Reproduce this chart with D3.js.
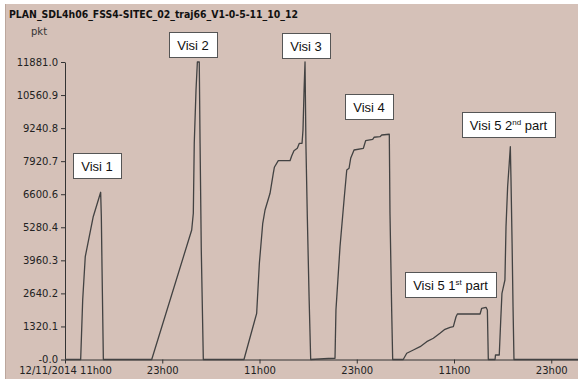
<!DOCTYPE html>
<html>
<head>
<meta charset="utf-8">
<script src="https://cdn.jsdelivr.net/npm/d3@7"></script>
<style>
  body { margin: 0; background: #fff; }
  svg { display: block; }
  .axis path, .axis line { stroke: #333; }
  .axis text { font-family: "DejaVu Sans", sans-serif; font-size: 10px; fill: #222; }
</style>
</head>
<body>
<div id="chart"></div>
<script>
// data (time, packets)
var times = [
  "2014-11-12 11:00","2014-11-12 12:56","2014-11-12 13:11","2014-11-12 13:30","2014-11-12 14:29",
  "2014-11-12 15:24","2014-11-12 15:29","2014-11-12 15:34","2014-11-12 15:44",
  "2014-11-12 21:42","2014-11-13 02:38","2014-11-13 02:50","2014-11-13 02:57","2014-11-13 03:10",
  "2014-11-13 03:20","2014-11-13 03:34","2014-11-13 03:40","2014-11-13 03:49","2014-11-13 04:04",
  "2014-11-13 09:05","2014-11-13 10:39","2014-11-13 10:59","2014-11-13 11:24","2014-11-13 11:41",
  "2014-11-13 12:18","2014-11-13 12:42","2014-11-13 12:50","2014-11-13 13:19","2014-11-13 14:46",
  "2014-11-13 14:58","2014-11-13 15:15","2014-11-13 15:40","2014-11-13 15:55","2014-11-13 16:15",
  "2014-11-13 16:22","2014-11-13 16:30","2014-11-13 16:37","2014-11-13 16:44","2014-11-13 16:54",
  "2014-11-13 17:07","2014-11-13 17:19",
  "2014-11-13 19:29","2014-11-13 20:19","2014-11-13 20:26","2014-11-13 20:56","2014-11-13 21:28",
  "2014-11-13 21:46","2014-11-13 22:03","2014-11-13 22:15","2014-11-13 22:40","2014-11-13 23:49",
  "2014-11-14 00:06","2014-11-14 00:58","2014-11-14 01:08","2014-11-14 01:52","2014-11-14 02:05",
  "2014-11-14 03:01","2014-11-14 03:06","2014-11-14 03:19","2014-11-14 03:26",
  "2014-11-14 04:44","2014-11-14 05:10","2014-11-14 05:59","2014-11-14 06:49","2014-11-14 07:38",
  "2014-11-14 08:27","2014-11-14 09:16","2014-11-14 09:53","2014-11-14 10:31","2014-11-14 10:55",
  "2014-11-14 11:15","2014-11-14 11:25","2014-11-14 14:13","2014-11-14 14:25","2014-11-14 14:57",
  "2014-11-14 15:07","2014-11-14 15:14",
  "2014-11-14 16:04","2014-11-14 16:07","2014-11-14 16:35","2014-11-14 16:46","2014-11-14 16:55",
  "2014-11-14 17:17","2014-11-14 17:25","2014-11-14 17:37","2014-11-14 17:49","2014-11-14 17:57",
  "2014-11-14 18:02","2014-11-14 18:10","2014-11-14 18:17","2014-11-14 18:24","2014-11-15 02:18"
];
var packets = [
  0,0,2376,4106,5703,
  6678,5703,3706,0,
  0,5172,5839,8635,10764,
  11881,11881,8635,4373,0,
  0,1845,3842,5440,5971,
  6638,7437,7676,7940,7940,
  8128,8340,8435,8635,8635,
  9166,10764,11881,8499,5703,
  2508,0,
  40,48,1977,4505,6502,
  7569,7637,8036,8367,8435,
  8739,8795,8875,8899,8966,
  8995,5839,1845,0,
  0,248,379,511,711,
  847,1046,1206,1286,1310,
  1709,1817,1817,2045,2085,
  1977,0,
  0,180,180,1578,2644,
  3175,5304,6901,7836,8499,
  7169,4641,2109,0,0
];

var yTicks = [0, 1320.1, 2640.2, 3960.3, 5280.4, 6600.6, 7920.7, 9240.8, 10560.9, 11881.0];
var yTickLabels = ["-0.0","1320.1","2640.2","3960.3","5280.4","6600.6","7920.7","9240.8","10560.9","11881.0"];
var xTicks = ["2014-11-12 11:00","2014-11-12 23:00","2014-11-13 11:00","2014-11-13 23:00","2014-11-14 11:00","2014-11-14 23:00"];
var xTickLabels = ["12/11/2014 11h00","23h00","11h00","23h00","11h00","23h00"];
var xDomain = ["2014-11-12 11:00","2014-11-15 02:18"];

// annotation labels, anchored at box top-left (time, packets)
var noteText = ["Visi 1","Visi 2","Visi 3","Visi 4","Visi 5 1|st| part","Visi 5 2|nd| part"];
var noteTime = ["2014-11-12 11:59","2014-11-12 23:50","2014-11-13 13:47","2014-11-13 21:33","2014-11-14 04:57","2014-11-14 11:59"];
var noteValue = [8248, 13081, 13041, 10604, 3495, 9885];

var title = "PLAN_SDL4h06_FSS4-SITEC_02_traj66_V1-0-5-11_10_12";

var W = 578, H = 379;
var parse = d3.timeParse("%Y-%m-%d %H:%M");

var data = times.map(function(t, i) { return {t: parse(t), v: packets[i]}; });

var svg = d3.select("#chart").append("svg")
  .attr("width", W)
  .attr("height", H);

// panel background
svg.append("rect")
  .attr("x", 5).attr("y", 4)
  .attr("width", W - 5).attr("height", H - 4)
  .attr("fill", "#d5c1b8");
svg.append("line")
  .attr("x1", 5.5).attr("x2", 5.5).attr("y1", 4).attr("y2", H)
  .attr("stroke", "#bba69c");

var x = d3.scaleTime()
  .domain(xDomain.map(parse))
  .range([65, W]);

var y = d3.scaleLinear()
  .domain([0, 11881])
  .range([359.5, 62]);

svg.append("text")
  .attr("x", 9).attr("y", 18)
  .attr("font-family", "DejaVu Sans, sans-serif")
  .attr("font-weight", "bold")
  .attr("font-size", "10px")
  .attr("fill", "#111")
  .attr("textLength", 289)
  .attr("lengthAdjust", "spacingAndGlyphs")
  .text(title);

svg.append("text")
  .attr("x", 31).attr("y", 35)
  .attr("font-family", "DejaVu Sans, sans-serif")
  .attr("font-size", "10px")
  .attr("fill", "#333")
  .text("pkt");

// y axis
svg.append("g")
  .attr("class", "axis")
  .attr("transform", "translate(65,0)")
  .call(d3.axisLeft(y)
    .tickValues(yTicks)
    .tickSize(4)
    .tickSizeOuter(0)
    .tickFormat(function(d, i) { return yTickLabels[i]; }));

// x axis
svg.append("g")
  .attr("class", "axis")
  .attr("transform", "translate(0," + y(0) + ")")
  .call(d3.axisBottom(x)
    .tickValues(xTicks.map(parse))
    .tickSize(4)
    .tickSizeOuter(0)
    .tickPadding(3)
    .tickFormat(function(d, i) { return xTickLabels[i]; }));

// series
var line = d3.line()
  .x(function(d) { return x(d.t); })
  .y(function(d) { return y(d.v); });

svg.append("path")
  .datum(data)
  .attr("fill", "none")
  .attr("stroke", "#424242")
  .attr("stroke-width", 1.3)
  .attr("stroke-linejoin", "round")
  .attr("d", line);

// annotation boxes
noteText.forEach(function(txt, i) {
  var g = svg.append("g")
    .attr("transform", "translate(" + Math.round(x(parse(noteTime[i]))) + "," + Math.round(y(noteValue[i])) + ")");
  var rect = g.append("rect")
    .attr("fill", "#fff")
    .attr("stroke", "#555")
    .attr("stroke-width", 1);
  var t = g.append("text")
    .attr("font-family", "Liberation Sans, Arial, sans-serif")
    .attr("font-size", "13px")
    .attr("fill", "#111")
    .attr("y", 17.5);
  txt.split("|").forEach(function(part, j) {
    var sp = t.append("tspan").text(part);
    if (j % 2 == 1) sp.attr("font-size", "8px").attr("dy", -5);
    else if (j > 0) sp.attr("dy", 5);
  });
  var bw = t.node().getComputedTextLength();
  var boxW = Math.round(bw + 16);
  t.attr("x", (boxW - bw) / 2);
  rect.attr("x", 0.5).attr("y", 0.5).attr("width", boxW).attr("height", 25);
});
</script>
</body>
</html>
